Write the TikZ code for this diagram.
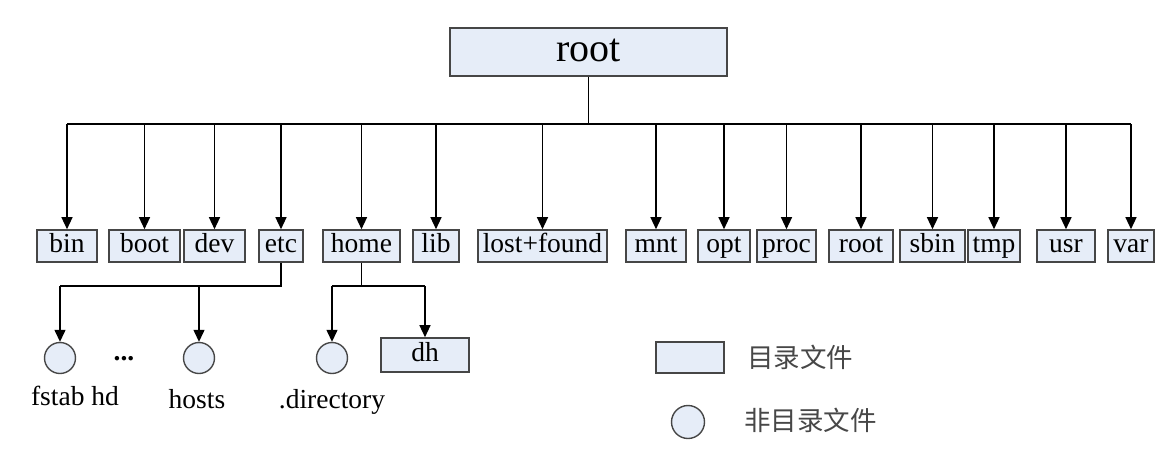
\documentclass[tikz,border=0pt]{standalone}
\usepackage{fontspec}
\setmainfont{Liberation Serif}
\newfontfamily\cjk{Noto Sans CJK SC}
\usetikzlibrary{arrows.meta}
\definecolor{boxfill}{RGB}{230,237,248}
\definecolor{boxline}{RGB}{70,70,70}
\begin{document}
\begin{tikzpicture}[x=1pt,y=-1pt,
  dirbox/.style={draw=boxline, fill=boxfill, line width=1.6pt, inner sep=0pt,
    minimum height=32pt, font=\fontsize{27.5}{30}\selectfont, text height=18pt, text depth=6pt},
  filecirc/.style={circle, draw=boxline, fill=boxfill, line width=1.4pt, inner sep=0pt, minimum size=31pt},
  conn/.style={line width=1.3pt},
  arr/.style={conn, -{Triangle[width=11pt,length=12pt]}},
  lbl/.style={font=\fontsize{27.5}{30}\selectfont, inner sep=0pt, anchor=base},
  cjklbl/.style={font=\cjk\fontsize{26.5}{30}\selectfont, text=black!72, inner sep=0pt, anchor=west}]
\useasboundingbox (0,0) rectangle (1160,458);

\node[dirbox, minimum width=277pt, minimum height=48pt, font=\fontsize{40}{44}\selectfont,
  text height=27pt, text depth=9pt] (root) at (588.5,52) {root};
\coordinate (bus) at (588.5,124);

\foreach \n/\t/\cx/\w in {bin/bin/67/60, boot/boot/144.5/71, dev/dev/214.5/61,
  etc/etc/281/44, home/home/361.5/77, lib/lib/436/46, lf/lost+found/542.5/129,
  mnt/mnt/656/60, opt/opt/724/52, proc/proc/786.5/59, rootd/root/861/64,
  sbin/sbin/932.5/65, tmp/tmp/994/52, usr/usr/1066/58, var/var/1131/46}{
  \node[dirbox, minimum width=\w pt] (\n) at (\cx,246) {\t};
}

\draw[conn] (root.south) -- (bus);
\draw[conn] (bin |- bus) -- (var |- bus);
\foreach \n in {bin,boot,dev,etc,home,lib,lf,mnt,opt,proc,rootd,sbin,tmp,usr,var}{
  \draw[arr] (\n |- bus) -- (\n.north);
}

% second level
\node[filecirc] (fstab) at (60,358) {};
\node[filecirc] (hosts) at (199,358) {};
\node[filecirc] (dotdir) at (332,358) {};
\node[dirbox, minimum width=88pt, minimum height=34pt] (dh) at (425,355) {dh};
\node[lbl, font=\bfseries\fontsize{27.5}{30}\selectfont] (dots) at (124,360) {...};

\coordinate (eb) at (0,286);
\draw[conn] (etc.south) -- (etc |- eb) -- (fstab |- eb);
\draw[arr] (fstab |- eb) -- (fstab.north);
\draw[arr] (hosts |- eb) -- (hosts.north);
\draw[conn] (home.south) -- (home |- eb);
\draw[conn] (dotdir |- eb) -- (dh |- eb);
\draw[arr] (dotdir |- eb) -- (dotdir.north);
\draw[arr] (dh |- eb) -- (dh.north);

\node[lbl] (fstablbl) at (75,405) {fstab hd};
\node[lbl] (hostslbl) at (197,408) {hosts};
\node[lbl] (dotdirlbl) at (332,408) {.directory};

% legend
\node[dirbox, minimum width=68pt, minimum height=31pt, text height=0pt, text depth=0pt] (legbox) at (690,357.5) {};
\node[cjklbl] (legdir) at (747,357) {目录文件};
\node[filecirc, minimum size=33pt] (legcirc) at (688,422) {};
\node[cjklbl] (legfile) at (744,420) {非目录文件};
\end{tikzpicture}
\end{document}
